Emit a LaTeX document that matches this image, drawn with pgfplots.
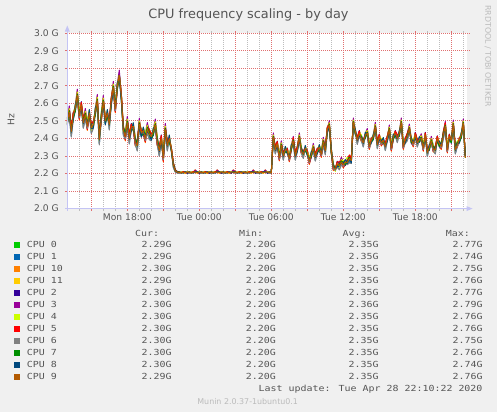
\documentclass[border=0pt]{standalone}
\usepackage{pgfplots}
\pgfplotsset{compat=1.18}
\usepackage{pgfplotstable}
\usepackage{fontspec}
\setmainfont{DejaVu Sans}
\newfontfamily\legfont[FakeStretch=1.19]{DejaVu Sans Mono}
\definecolor{bgc}{HTML}{F0F0F0}
\definecolor{txt}{HTML}{555555}
\definecolor{ltxt}{HTML}{BBBBBB}
\definecolor{mgrid}{HTML}{E07070}
\definecolor{ngrid}{HTML}{BDBDBD}
\definecolor{axc}{HTML}{C4C4F4}
\definecolor{k0}{HTML}{00CC00}
\definecolor{k1}{HTML}{0066B3}
\definecolor{k10}{HTML}{FF8000}
\definecolor{k11}{HTML}{FFCC00}
\definecolor{k2}{HTML}{330099}
\definecolor{k3}{HTML}{990099}
\definecolor{k4}{HTML}{CCFF00}
\definecolor{k5}{HTML}{FF0000}
\definecolor{k6}{HTML}{808080}
\definecolor{k7}{HTML}{008F00}
\definecolor{k8}{HTML}{00487D}
\definecolor{k9}{HTML}{B35A00}
% time t in 10-minute steps from Mon 13:00; values in MHz
\pgfplotstableread{
t c0 c1 c7 c11 c2 c3 c4 c5 c8 c10 c6 c9
0 2488 2508 2480 2504 2476 2512 2516 2492 2520 2484 2494 2500
1 2566 2530 2558 2574 2562 2586 2570 2560 2542 2554 2526 2550
2 2464 2412 2452 2430 2446 2458 2424 2468 2436 2450 2408 2440
3 2540 2542 2514 2548 2550 2522 2536 2546 2510 2542 2506 2530
4 2563 2583 2555 2579 2551 2587 2591 2567 2595 2559 2569 2575
5 2661 2625 2653 2669 2657 2681 2665 2655 2637 2649 2621 2645
6 2522 2514 2550 2542 2518 2554 2560 2510 2538 2506 2518 2530
7 2600 2602 2574 2608 2610 2582 2596 2606 2570 2602 2566 2590
8 2514 2462 2502 2480 2496 2508 2474 2518 2486 2500 2458 2490
9 2551 2515 2543 2559 2547 2571 2555 2545 2527 2539 2511 2535
10 2462 2454 2490 2482 2458 2494 2500 2450 2478 2446 2458 2470
11 2533 2553 2525 2549 2521 2557 2561 2537 2565 2529 2539 2545
12 2484 2432 2472 2450 2466 2478 2444 2488 2456 2470 2428 2460
13 2490 2492 2464 2498 2500 2472 2486 2496 2460 2492 2456 2480
14 2543 2563 2535 2559 2531 2567 2571 2547 2575 2539 2549 2555
15 2631 2595 2623 2639 2627 2651 2635 2625 2607 2619 2591 2615
16 2419 2367 2407 2385 2401 2413 2379 2423 2391 2405 2363 2395
17 2512 2504 2540 2532 2508 2544 2550 2500 2528 2496 2508 2520
18 2626 2590 2618 2634 2622 2646 2630 2620 2602 2614 2586 2610
19 2510 2512 2484 2518 2520 2492 2506 2516 2480 2512 2476 2500
20 2533 2553 2525 2549 2521 2557 2561 2537 2565 2529 2539 2545
21 2504 2452 2492 2470 2486 2498 2464 2508 2476 2490 2448 2480
22 2625 2627 2599 2633 2635 2607 2621 2631 2595 2627 2591 2615
23 2706 2670 2698 2714 2702 2726 2710 2700 2682 2694 2666 2690
24 2562 2554 2590 2582 2558 2594 2600 2550 2578 2546 2558 2570
25 2688 2708 2680 2704 2676 2712 2716 2692 2720 2684 2694 2700
26 2770 2740 2760 2760 2770 2790 2760 2760 2740 2750 2750 2760
27 2650 2652 2624 2658 2660 2632 2646 2656 2620 2652 2616 2640
28 2474 2422 2462 2440 2456 2468 2434 2478 2446 2460 2418 2450
29 2402 2394 2430 2422 2398 2434 2440 2390 2418 2386 2398 2410
30 2506 2470 2498 2514 2502 2526 2510 2500 2482 2494 2466 2490
31 2424 2372 2412 2390 2406 2418 2384 2428 2396 2410 2368 2400
32 2475 2477 2449 2483 2485 2457 2471 2481 2445 2477 2441 2465
33 2458 2478 2450 2474 2446 2482 2486 2462 2490 2454 2464 2470
34 2372 2364 2400 2392 2368 2404 2410 2360 2388 2356 2368 2380
35 2384 2332 2372 2350 2366 2378 2344 2388 2356 2370 2328 2360
36 2496 2460 2488 2504 2492 2516 2500 2490 2472 2484 2456 2480
37 2440 2442 2414 2448 2450 2422 2436 2446 2410 2442 2406 2430
38 2433 2453 2425 2449 2421 2457 2461 2437 2465 2429 2439 2445
39 2392 2384 2420 2412 2388 2424 2430 2380 2408 2376 2388 2400
40 2471 2435 2463 2479 2467 2491 2475 2465 2447 2459 2431 2455
41 2449 2397 2437 2415 2431 2443 2409 2453 2421 2435 2393 2425
42 2420 2422 2394 2428 2430 2402 2416 2426 2390 2422 2386 2410
43 2428 2448 2420 2444 2416 2452 2456 2432 2460 2424 2434 2440
44 2491 2455 2483 2499 2487 2511 2495 2485 2467 2479 2451 2475
45 2372 2364 2400 2392 2368 2404 2410 2360 2388 2356 2368 2380
46 2354 2302 2342 2320 2336 2348 2314 2358 2326 2340 2298 2330
47 2410 2412 2384 2418 2420 2392 2406 2416 2380 2412 2376 2400
48 2282 2274 2310 2302 2278 2314 2320 2270 2298 2266 2278 2290
49 2466 2430 2458 2474 2462 2486 2470 2460 2442 2454 2426 2450
50 2384 2332 2372 2350 2366 2378 2344 2388 2356 2370 2328 2360
51 2388 2408 2380 2404 2376 2412 2416 2392 2420 2384 2394 2400
52 2345 2346 2332 2349 2350 2336 2343 2348 2330 2346 2328 2340
53 2262 2236 2256 2245 2253 2259 2242 2264 2248 2255 2234 2250
54 2220 2210 2218 2214 2216 2222 2212 2219 2213 2215 2208 2215
55 2210 2204 2209 2206 2211 2212 2205 2208 2207 2209 2203 2208
56 2207 2203 2209 2205 2206 2210 2204 2208 2206 2207 2200 2206
57 2205 2208 2204 2209 2203 2206 2210 2205 2207 2204 2206 2205
58 2209 2204 2206 2207 2208 2205 2206 2211 2204 2209 2203 2207
59 2204 2206 2208 2200 2210 2207 2205 2204 2209 2205 2207 2206
60 2206 2209 2205 2206 2201 2208 2212 2206 2205 2203 2208 2209
61 2207 2203 2209 2205 2206 2210 2204 2208 2206 2207 2200 2206
62 2205 2208 2204 2209 2203 2206 2210 2205 2207 2204 2206 2205
63 2209 2204 2206 2207 2208 2205 2206 2211 2204 2209 2203 2207
64 2218 2206 2210 2212 2215 2220 2208 2213 2209 2221 2210 2208
65 2204 2206 2208 2200 2210 2207 2205 2204 2209 2205 2207 2206
66 2206 2209 2205 2206 2201 2208 2212 2206 2205 2203 2208 2209
67 2207 2203 2209 2205 2206 2210 2204 2208 2206 2207 2200 2206
68 2205 2208 2204 2209 2203 2206 2210 2205 2207 2204 2206 2205
69 2209 2204 2206 2207 2208 2205 2206 2211 2204 2209 2203 2207
70 2204 2206 2208 2200 2210 2207 2205 2204 2209 2205 2207 2206
71 2206 2209 2205 2206 2201 2208 2212 2206 2205 2203 2208 2209
72 2207 2203 2209 2205 2206 2210 2204 2208 2206 2207 2200 2206
73 2205 2208 2204 2209 2203 2206 2210 2205 2207 2204 2206 2205
74 2209 2204 2206 2207 2208 2205 2206 2211 2204 2209 2203 2207
75 2218 2206 2210 2212 2215 2220 2208 2213 2209 2221 2210 2208
76 2204 2206 2208 2200 2210 2207 2205 2204 2209 2205 2207 2206
77 2206 2209 2205 2206 2201 2208 2212 2206 2205 2203 2208 2209
78 2207 2203 2209 2205 2206 2210 2204 2208 2206 2207 2200 2206
79 2205 2208 2204 2209 2203 2206 2210 2205 2207 2204 2206 2205
80 2209 2204 2206 2207 2208 2205 2206 2211 2204 2209 2203 2207
81 2204 2206 2208 2200 2210 2207 2205 2204 2209 2205 2207 2206
82 2206 2209 2205 2206 2201 2208 2212 2206 2205 2203 2208 2209
83 2218 2206 2210 2212 2215 2220 2208 2213 2209 2221 2210 2208
84 2207 2203 2209 2205 2206 2210 2204 2208 2206 2207 2200 2206
85 2205 2208 2204 2209 2203 2206 2210 2205 2207 2204 2206 2205
86 2209 2204 2206 2207 2208 2205 2206 2211 2204 2209 2203 2207
87 2204 2206 2208 2200 2210 2207 2205 2204 2209 2205 2207 2206
88 2206 2209 2205 2206 2201 2208 2212 2206 2205 2203 2208 2209
89 2207 2203 2209 2205 2206 2210 2204 2208 2206 2207 2200 2206
90 2205 2208 2204 2209 2203 2206 2210 2205 2207 2204 2206 2205
91 2209 2204 2206 2207 2208 2205 2206 2211 2204 2209 2203 2207
92 2204 2206 2208 2200 2210 2207 2205 2204 2209 2205 2207 2206
93 2218 2206 2210 2212 2215 2220 2208 2213 2209 2221 2210 2208
94 2206 2209 2205 2206 2201 2208 2212 2206 2205 2203 2208 2209
95 2207 2203 2209 2205 2206 2210 2204 2208 2206 2207 2200 2206
96 2205 2208 2204 2209 2203 2206 2210 2205 2207 2204 2206 2205
97 2209 2204 2206 2207 2208 2205 2206 2211 2204 2209 2203 2207
98 2204 2206 2208 2200 2210 2207 2205 2204 2209 2205 2207 2206
99 2218 2206 2210 2212 2215 2220 2208 2213 2209 2221 2210 2208
100 2206 2209 2205 2206 2201 2208 2212 2206 2205 2203 2208 2209
101 2207 2203 2209 2205 2206 2210 2204 2208 2206 2207 2200 2206
102 2205 2208 2204 2209 2203 2206 2210 2205 2207 2204 2206 2205
103 2417 2390 2411 2423 2414 2432 2420 2413 2399 2408 2387 2405
104 2353 2314 2344 2327 2340 2349 2323 2356 2332 2343 2311 2335
105 2378 2379 2358 2384 2385 2364 2375 2382 2355 2379 2352 2370
106 2284 2278 2305 2299 2281 2308 2312 2275 2296 2272 2281 2290
107 2372 2345 2366 2378 2369 2387 2375 2368 2354 2363 2342 2360
108 2318 2279 2309 2292 2305 2314 2288 2321 2297 2308 2276 2300
109 2331 2346 2325 2343 2322 2349 2352 2334 2355 2328 2335 2340
110 2338 2339 2318 2344 2345 2324 2335 2342 2315 2339 2312 2330
111 2279 2273 2300 2294 2276 2303 2307 2270 2291 2267 2276 2285
112 2341 2356 2335 2353 2332 2359 2362 2344 2365 2338 2345 2350
113 2397 2370 2391 2403 2394 2412 2400 2405 2379 2388 2367 2385
114 2318 2279 2309 2292 2305 2314 2288 2321 2297 2308 2276 2300
115 2348 2349 2328 2354 2355 2334 2345 2352 2325 2349 2322 2340
116 2417 2390 2411 2423 2414 2432 2420 2413 2399 2408 2387 2405
117 2324 2318 2345 2339 2321 2348 2352 2315 2336 2312 2321 2330
118 2328 2289 2319 2302 2315 2324 2298 2331 2307 2318 2286 2310
119 2336 2351 2330 2348 2327 2354 2357 2339 2360 2333 2340 2345
120 2328 2329 2308 2334 2335 2314 2325 2332 2305 2329 2302 2320
121 2264 2258 2285 2279 2261 2288 2292 2255 2276 2252 2261 2270
122 2301 2316 2295 2313 2292 2319 2322 2304 2325 2298 2305 2310
123 2357 2330 2351 2363 2354 2372 2360 2353 2339 2348 2327 2345
124 2313 2274 2304 2287 2300 2309 2283 2316 2292 2303 2271 2295
125 2338 2339 2318 2344 2345 2324 2335 2342 2315 2339 2312 2330
126 2341 2356 2335 2353 2332 2359 2362 2344 2365 2338 2345 2350
127 2304 2298 2325 2319 2301 2328 2332 2295 2316 2292 2301 2310
128 2392 2365 2386 2398 2389 2407 2395 2388 2374 2383 2362 2380
129 2348 2309 2339 2322 2335 2344 2318 2351 2327 2338 2306 2330
130 2458 2459 2438 2464 2465 2444 2455 2462 2435 2459 2432 2450
131 2487 2460 2481 2493 2484 2502 2490 2483 2469 2478 2457 2475
132 2321 2336 2315 2333 2312 2339 2342 2324 2345 2318 2325 2330
133 2229 2223 2250 2244 2226 2253 2257 2220 2241 2217 2226 2235
134 2228 2220 2230 2226 2224 2232 2212 2229 2227 2222 2218 2225
135 2263 2264 2243 2269 2270 2249 2260 2267 2240 2264 2237 2255
136 2263 2224 2254 2237 2250 2259 2233 2266 2242 2253 2221 2245
137 2277 2250 2271 2283 2274 2292 2280 2273 2259 2268 2247 2265
138 2244 2238 2265 2259 2241 2268 2272 2235 2256 2232 2241 2250
139 2256 2271 2250 2268 2247 2274 2277 2259 2280 2253 2260 2265
140 2270 2255 2268 2275 2266 2278 2292 2270 2258 2264 2250 2262
141 2303 2264 2294 2277 2290 2299 2273 2306 2282 2293 2261 2285
142 2283 2284 2263 2289 2290 2269 2280 2287 2260 2284 2257 2275
143 2502 2475 2496 2508 2499 2517 2505 2498 2484 2493 2472 2490
144 2431 2446 2425 2443 2422 2449 2452 2434 2455 2428 2435 2440
145 2408 2369 2399 2382 2395 2404 2378 2411 2387 2398 2366 2390
146 2438 2439 2418 2444 2445 2424 2435 2442 2415 2439 2412 2430
147 2394 2388 2415 2409 2391 2418 2422 2385 2406 2382 2391 2400
148 2393 2354 2384 2367 2380 2389 2363 2396 2372 2383 2351 2375
149 2411 2426 2405 2423 2402 2429 2432 2414 2435 2408 2415 2420
150 2442 2415 2436 2448 2439 2457 2445 2438 2424 2433 2412 2430
151 2349 2343 2370 2364 2346 2373 2377 2340 2361 2337 2346 2355
152 2398 2399 2378 2404 2405 2384 2395 2402 2375 2399 2372 2390
153 2401 2416 2395 2413 2392 2419 2422 2404 2425 2398 2405 2410
154 2477 2450 2471 2483 2474 2492 2480 2473 2459 2468 2447 2465
155 2383 2344 2374 2357 2370 2379 2353 2386 2362 2373 2341 2365
156 2418 2419 2398 2424 2425 2404 2415 2422 2395 2419 2392 2410
157 2369 2363 2390 2384 2366 2393 2397 2360 2381 2357 2366 2375
158 2381 2396 2375 2393 2372 2399 2402 2384 2405 2378 2385 2390
159 2373 2334 2364 2347 2360 2369 2343 2376 2352 2363 2331 2355
160 2408 2409 2388 2414 2415 2394 2405 2412 2385 2409 2382 2400
161 2462 2435 2456 2468 2459 2477 2465 2458 2444 2453 2432 2450
162 2339 2333 2360 2354 2336 2363 2367 2330 2351 2327 2336 2345
163 2401 2416 2395 2413 2392 2419 2422 2404 2425 2398 2405 2410
164 2438 2439 2418 2444 2445 2424 2435 2442 2415 2439 2412 2430
165 2418 2379 2409 2392 2405 2414 2388 2421 2397 2408 2376 2400
166 2421 2436 2415 2433 2412 2439 2442 2424 2445 2418 2425 2430
167 2502 2475 2496 2508 2499 2517 2505 2498 2484 2493 2472 2490
168 2349 2343 2370 2364 2346 2373 2377 2340 2361 2337 2346 2355
169 2398 2399 2378 2404 2405 2384 2395 2402 2375 2399 2372 2390
170 2428 2389 2419 2402 2415 2424 2398 2431 2407 2418 2386 2410
171 2467 2440 2461 2473 2464 2482 2470 2463 2449 2458 2437 2455
172 2381 2396 2375 2393 2372 2399 2402 2384 2405 2378 2385 2390
173 2364 2358 2385 2379 2361 2388 2392 2355 2376 2352 2361 2370
174 2428 2429 2408 2434 2435 2414 2425 2432 2405 2429 2402 2420
175 2393 2354 2384 2367 2380 2389 2363 2396 2372 2383 2351 2375
176 2386 2401 2380 2398 2377 2404 2407 2389 2410 2383 2390 2395
177 2412 2385 2406 2418 2409 2427 2415 2408 2394 2403 2382 2400
178 2339 2333 2360 2354 2336 2363 2367 2330 2351 2327 2336 2345
179 2428 2429 2408 2434 2435 2414 2425 2432 2405 2429 2402 2420
180 2338 2299 2329 2312 2325 2334 2308 2341 2317 2328 2296 2320
181 2341 2356 2335 2353 2332 2359 2362 2344 2365 2338 2345 2350
182 2397 2370 2391 2403 2394 2412 2400 2393 2379 2388 2367 2385
183 2334 2328 2355 2349 2331 2358 2362 2325 2346 2322 2331 2340
184 2353 2314 2344 2327 2340 2349 2323 2356 2332 2343 2311 2335
185 2408 2409 2388 2414 2415 2394 2405 2412 2385 2409 2382 2400
186 2361 2376 2355 2373 2352 2379 2382 2364 2385 2358 2365 2370
187 2349 2343 2370 2364 2346 2373 2377 2340 2361 2337 2346 2355
188 2438 2399 2429 2412 2425 2434 2408 2441 2417 2428 2396 2420
189 2482 2455 2476 2488 2479 2497 2485 2490 2464 2473 2452 2470
190 2329 2323 2350 2344 2326 2353 2357 2320 2341 2317 2326 2335
191 2418 2419 2398 2424 2425 2404 2415 2422 2395 2419 2392 2410
192 2381 2396 2375 2393 2372 2399 2402 2384 2405 2378 2385 2390
193 2490 2463 2484 2496 2487 2505 2493 2486 2472 2481 2460 2478
194 2353 2314 2344 2327 2340 2349 2323 2356 2332 2343 2311 2335
195 2359 2353 2380 2374 2356 2383 2387 2350 2371 2347 2356 2365
196 2398 2399 2378 2404 2405 2384 2395 2402 2375 2399 2372 2390
197 2411 2426 2405 2423 2402 2429 2432 2414 2435 2408 2415 2420
198 2497 2470 2491 2503 2494 2512 2500 2493 2479 2488 2467 2485
199 2290 2290 2300 2290 2300 2300 2300 2300 2300 2300 2300 2290
}\cpu
\newcommand\ticfont{\fontsize{9.2}{10}\selectfont}
\newcommand\lf{\legfont\fontsize{8.4}{10}\selectfont}
\begin{document}
\begin{tikzpicture}[x=1bp,y=1bp]
\fill[bgc] (0,0) rectangle (497,412);
\fill[white] (67.3,203.4) rectangle (467.3,378.7);
% vertical grid: every hour (gray), every 3 hours (red)
\foreach \k in {1,...,33}{
  \pgfmathtruncatemacro\m{mod(\k+1,3)}
  \ifnum\m=0
    \draw[mgrid, line width=1bp, dash pattern=on 1bp off 1bp] (67.3+12*\k,203.4) -- (67.3+12*\k,378.7);
    \draw[mgrid, line width=1bp] (67.3+12*\k,378.7) -- (67.3+12*\k,381);
    \draw[mgrid, line width=1bp] (67.3+12*\k,203.4) -- (67.3+12*\k,201);
  \else
    \draw[ngrid, line width=1bp, dash pattern=on 1bp off 1bp] (67.3+12*\k,203.4) -- (67.3+12*\k,378.7);
    \draw[ngrid, line width=1bp] (67.3+12*\k,378.7) -- (67.3+12*\k,381);
    \draw[ngrid, line width=1bp] (67.3+12*\k,203.4) -- (67.3+12*\k,201);
  \fi
}
% horizontal grid
\foreach \j in {1,...,10}{
  \draw[mgrid, line width=1bp, dash pattern=on 1bp off 1bp] (67.3,203.4+17.53*\j) -- (469.5,203.4+17.53*\j);
  \draw[mgrid, line width=1bp] (65,203.4+17.53*\j) -- (67.3,203.4+17.53*\j);
}
\begin{axis}[
  at={(67.3bp,203.4bp)}, anchor=south west,
  scale only axis, width=400bp, height=175.3bp,
  xmin=0, xmax=200, ymin=2000, ymax=3000,
  clip=false,
  axis line style={draw=none},
  tick style={draw=none},
  ytick={2000,2100,2200,2300,2400,2500,2600,2700,2800,2900,3000},
  yticklabels={2.0 G,2.1 G,2.2 G,2.3 G,2.4 G,2.5 G,2.6 G,2.7 G,2.8 G,2.9 G,3.0 G},
  yticklabel style={anchor=east, inner sep=0pt, xshift=-8.3bp, font=\ticfont, text=txt},
  xtick={30,66,102,138,174},
  xticklabels={Mon 18:00,Tue 00:00,Tue 06:00,Tue 12:00,Tue 18:00},
  xticklabel style={anchor=north, inner sep=0pt, yshift=-4.8bp, font=\ticfont, text=txt},
  every axis plot/.append style={line width=1bp, line join=round, mark=none},
]
\addplot[k0]  table[x=t,y=c0]  {\cpu};
\addplot[k1]  table[x=t,y=c1]  {\cpu};
\addplot[k10] table[x=t,y=c10] {\cpu};
\addplot[k11] table[x=t,y=c11] {\cpu};
\addplot[k2]  table[x=t,y=c2]  {\cpu};
\addplot[k3]  table[x=t,y=c3]  {\cpu};
\addplot[k4]  table[x=t,y=c4]  {\cpu};
\addplot[k5]  table[x=t,y=c5]  {\cpu};
\addplot[k6]  table[x=t,y=c6]  {\cpu};
\addplot[k7]  table[x=t,y=c7]  {\cpu};
\addplot[k8]  table[x=t,y=c8]  {\cpu};
\addplot[k9]  table[x=t,y=c9]  {\cpu};
\end{axis}
% axes with arrows
\draw[axc, line width=1bp] (67.3,201) -- (67.3,381);
\fill[axc] (64.8,380.5) -- (69.8,380.5) -- (67.3,386.5) -- cycle;
\draw[axc, line width=1bp] (65,203.4) -- (467,203.4);
\fill[axc] (466.5,200.9) -- (466.5,205.9) -- (472.5,203.4) -- cycle;
% title and labels
\node[anchor=base, inner sep=0pt, text=txt] at (248.5,393.7) {\fontsize{12.9}{14}\selectfont CPU frequency scaling - by day};
\node[rotate=90, inner sep=0pt, text=txt] at (11,292) {\ticfont Hz};
\node[rotate=-90, inner sep=0pt, text=ltxt] at (488,356) {\fontsize{7.9}{9}\selectfont RRDTOOL / TOBI OETIKER};
% legend
\node[anchor=base east, inner sep=0pt, text=txt] at (159.3,176) {\lf Cur:};
\node[anchor=base east, inner sep=0pt, text=txt] at (263.3,176) {\lf Min:};
\node[anchor=base east, inner sep=0pt, text=txt] at (366.7,176) {\lf Avg:};
\node[anchor=base east, inner sep=0pt, text=txt] at (470,176) {\lf Max:};
\foreach \n/\c/\cur/\mn/\av/\mx [count=\i from 0] in {
  CPU 0/k0/2.29G/2.20G/2.35G/2.77G,
  CPU 1/k1/2.29G/2.20G/2.35G/2.74G,
  CPU 10/k10/2.30G/2.20G/2.35G/2.75G,
  CPU 11/k11/2.29G/2.20G/2.35G/2.76G,
  CPU 2/k2/2.30G/2.20G/2.35G/2.77G,
  CPU 3/k3/2.30G/2.20G/2.36G/2.79G,
  CPU 4/k4/2.30G/2.20G/2.35G/2.76G,
  CPU 5/k5/2.30G/2.20G/2.35G/2.76G,
  CPU 6/k6/2.30G/2.20G/2.35G/2.75G,
  CPU 7/k7/2.30G/2.20G/2.35G/2.76G,
  CPU 8/k8/2.30G/2.20G/2.35G/2.74G,
  CPU 9/k9/2.29G/2.20G/2.35G/2.76G}{
  \fill[\c] (14,164.5-12*\i) rectangle (20,170.5-12*\i);
  \node[anchor=base west, inner sep=0pt, text=txt] at (26.7,164.7-12*\i) {\lf \n};
  \node[anchor=base east, inner sep=0pt, text=txt] at (171.7,164.7-12*\i) {\lf \cur};
  \node[anchor=base east, inner sep=0pt, text=txt] at (276,164.7-12*\i) {\lf \mn};
  \node[anchor=base east, inner sep=0pt, text=txt] at (378.7,164.7-12*\i) {\lf \av};
  \node[anchor=base east, inner sep=0pt, text=txt] at (482.7,164.7-12*\i) {\lf \mx};
}
\node[anchor=base east, inner sep=0pt, text=txt] at (482.7,20.3) {\lf Last update: Tue Apr 28 22:10:22 2020};
\node[anchor=base, inner sep=0pt, text=ltxt] at (247.7,8) {\fontsize{7.96}{9}\selectfont Munin 2.0.37-1ubuntu0.1};
\end{tikzpicture}
\end{document}
